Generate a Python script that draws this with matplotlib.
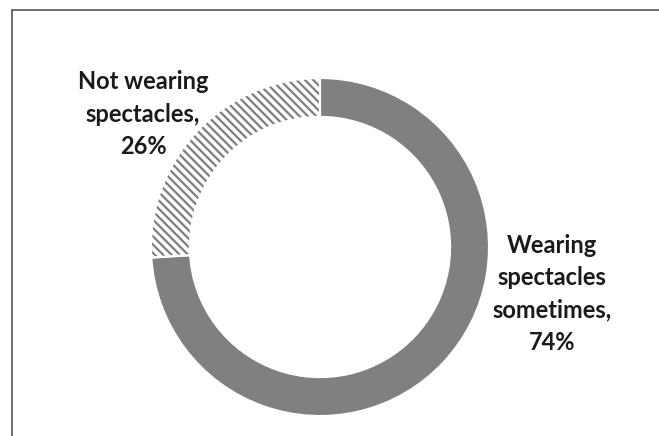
import matplotlib.pyplot as plt
from matplotlib.patches import Rectangle

# Data
categories = ['Wearing spectacles sometimes', 'Not wearing spectacles']
shares = [74, 26]
labels = ['Wearing\nspectacles\nsometimes,\n74%', 'Not wearing\nspectacles,\n26%']

plt.rcParams['font.family'] = ['Lato', 'DejaVu Sans']
plt.rcParams['hatch.linewidth'] = 1.6

W, H = 659, 436
fig = plt.figure(figsize=(W / 100, H / 100), dpi=100)

# outer frame (only top and left visible in the crop)
fig.patches.append(Rectangle((12 / W, -0.1), 1.2, 1 - 10 / H + 0.1,
                             transform=fig.transFigure, fill=False,
                             edgecolor='#555555', linewidth=1.2))

# donut, centre ~ (320, 247) px, radius ~ 169 px
cx, cy, r = 320, 247, 169
ax = fig.add_axes([(cx - r) / W, (H - cy - r) / H, 2 * r / W, 2 * r / H])
wedges, _ = ax.pie(shares, startangle=90, counterclock=False,
                   colors=['#808080', 'white'],
                   wedgeprops=dict(width=0.23, linewidth=0))
# hatch colour follows the edge colour, so give the hatched wedge a grey edge
wedges[1].set_edgecolor('#7f7f7f')
wedges[1].set_hatch('\\\\\\\\')
# white separators drawn on top
ax.pie(shares, startangle=90, counterclock=False,
       wedgeprops=dict(width=0.23, facecolor='none', edgecolor='white', linewidth=1.5))
ax.set_xlim(-1, 1)
ax.set_ylim(-1, 1)

# data labels
fig.text(552 / W, 1 - 294 / H, labels[0], ha='center', va='center',
         fontsize=17, fontweight='bold', color='#1a1a1a', linespacing=1.48)
fig.text(143 / W, 1 - 114 / H, labels[1], ha='center', va='center',
         fontsize=17, fontweight='bold', color='#1a1a1a', linespacing=1.48)

fig.savefig('out.png', dpi=100)
